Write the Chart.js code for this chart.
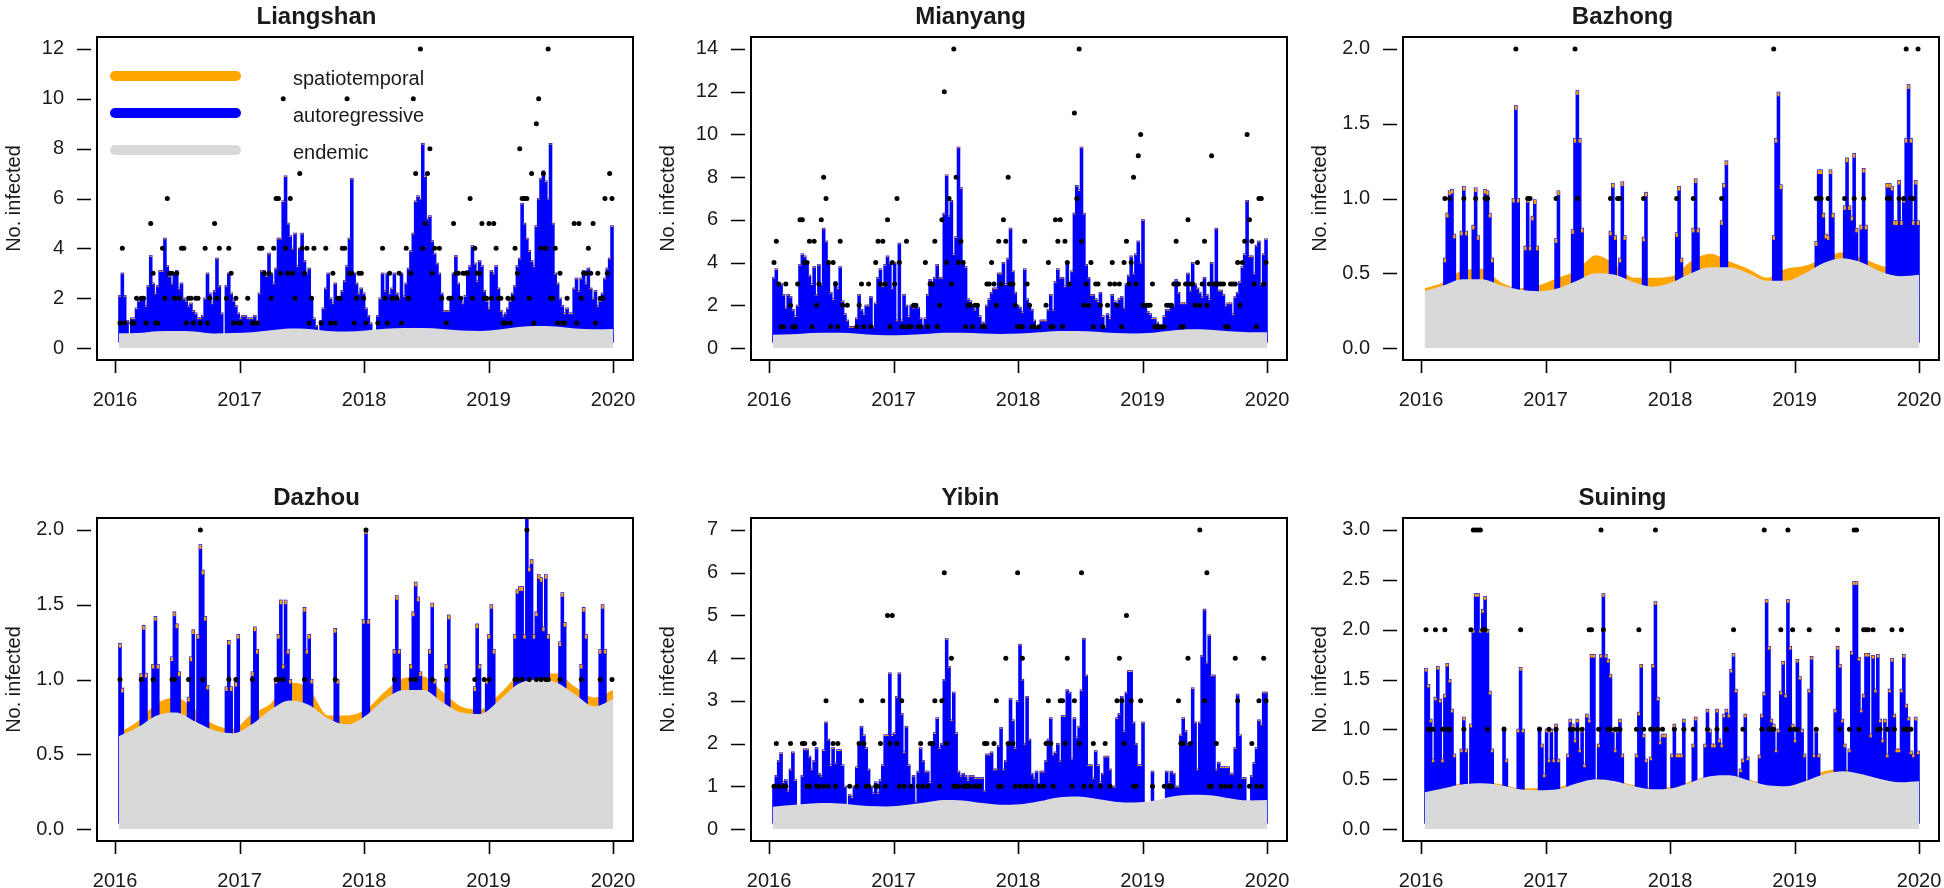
<!DOCTYPE html>
<html>
<head>
<meta charset="utf-8">
<title>Fitted components by city</title>
<script src="https://cdn.jsdelivr.net/npm/chart.js@4.4.1/dist/chart.umd.min.js"></script>
<style>
    html, body { margin: 0; padding: 0; background: #fff; overflow: hidden; }
    #page { position: relative; width: 1944px; height: 888px; overflow: hidden; }
    #page canvas { position: absolute; }
</style>
</head>
<body>
<div id="page"></div>
<script>
// Time axis: 209 weekly steps, the first one starting at 2016.03
const WEEK0 = 2016.03;
const WEEK_STEP = 0.019;
const N_WEEKS = 209;

const yearTicks = [2016, 2017, 2018, 2019, 2020];

// ---- Liangshan ----
const liangshanTicks = [0, 2, 4, 6, 8, 10, 12];
const liangshanEndemic = [0.59, 0.60, 0.67, 0.68, 0.66, 0.58, 0.60, 0.63, 0.71, 0.78, 0.76, 0.68, 0.66, 0.70,
    0.77, 0.80, 0.80, 0.76, 0.70, 0.68, 0.74, 0.84, 0.88, 0.86, 0.78, 0.75, 0.76];
const liangshanFitted = [
    2.1, 3.0, 2.1, 1.1, null, 1.2, 1.2, 1.6, 1.9, 2.0, 2.0, 1.7, 2.5,
    3.7, 2.6, 2.2, 2.5, 3.1, 3.1, 4.4, 3.3, 2.9, 2.6, 3.0, 3.1, 2.4,
    2.6, 2.0, 1.9, 1.7, 1.8, 1.5, 1.4, 1.2, 1.2, 1.3, 2.0, 3.0, 2.2,
    1.8, 2.3, 3.6, 2.5, 1.4, null, 2.5, 3.0, 2.2, 1.9, 1.7, 1.4, 1.2,
    1.3, 1.3, 1.2, 1.2, 1.2, 1.3, 1.0, 2.2, 3.1, 3.1, 2.9, 3.8, 3.0,
    2.6, 3.2, 4.4, 4.4, 5.9, 6.9, 5.0, 4.5, 4.0, 4.6, 3.3, 4.0, 4.6,
    3.5, 3.0, 3.2, 2.0, 1.2, 0.9, null, 1.1, 1.6, 2.4, 3.0, 2.0, 1.8,
    2.6, 2.0, 2.0, 2.3, 2.7, 3.3, 4.4, 6.8, 3.0, 2.6, 2.2, 2.4, 2.2,
    1.6, 1.3, 1.0, null, null, 1.3, 2.0, 3.0, 2.3, 3.0, 2.2, 2.4, 3.0,
    2.2, 2.0, 3.0, 2.1, 2.6, 3.2, 3.9, 4.6, 5.9, 6.1, 6.0, 8.2, 6.9,
    5.2, 5.3, 4.3, 3.8, 3.4, 3.0, 2.2, 1.5, 1.5, 1.5, 2.0, 3.0, 3.7,
    2.6, 2.0, 1.8, 2.1, 3.1, 3.3, 4.1, 3.4, 2.7, 3.5, 3.3, 2.3, 1.9,
    1.6, 3.1, 3.0, 3.3, 2.4, 1.5, 1.3, 1.4, 1.6, 1.9, 2.2, 2.5, 3.3,
    3.6, 5.8, 5.0, 4.4, 3.9, 3.5, 3.3, 4.9, 6.0, 6.8, 7.1, 6.7, 6.0,
    8.2, 5.0, 3.0, 2.6, 2.0, 1.7, 1.4, 1.6, 1.4, 1.4, 2.4, 2.8, 2.3,
    2.8, 3.1, 2.6, 3.2, 2.4, 2.0, 2.3, 1.7, 1.9, 2.2, 2.8, 3.2, 3.6,
    4.9
];
const liangshanObserved = [
    [0, 1], [1, 4], [2, 1], [5, 1], [6, 1], [7, 2], [9, 2], [10, 2], [11, 1], [13, 5], [14, 3], [15, 1], [16, 1],
    [18, 4], [19, 2], [20, 6], [21, 3], [22, 3], [23, 2], [24, 3], [25, 2], [26, 4], [27, 4], [28, 1], [29, 2],
    [30, 2], [31, 1], [32, 2], [33, 2], [34, 1], [36, 4], [37, 1], [38, 2], [40, 5], [41, 2], [42, 4], [45, 2],
    [46, 4], [47, 3], [48, 1], [49, 2], [50, 1], [51, 1], [54, 2], [56, 1], [57, 1], [58, 1], [59, 4], [60, 4],
    [61, 3], [63, 3], [64, 2], [65, 4], [66, 6], [67, 6], [68, 3], [69, 10], [70, 4], [71, 3], [72, 6], [73, 3],
    [74, 2], [76, 7], [77, 4], [78, 3], [79, 4], [80, 1], [81, 2], [82, 4], [85, 1], [87, 4], [89, 1], [90, 3],
    [91, 1], [92, 2], [93, 2], [94, 4], [95, 4], [96, 10], [97, 3], [98, 3], [99, 1], [100, 2], [101, 3],
    [102, 3], [103, 2], [104, 1], [109, 1], [111, 4], [112, 2], [113, 1], [114, 3], [115, 2], [117, 2], [118, 3],
    [119, 1], [121, 4], [122, 2], [123, 3], [124, 10], [125, 7], [127, 12], [128, 4], [129, 5], [130, 7],
    [131, 8], [132, 3], [133, 4], [135, 4], [136, 2], [138, 1], [139, 2], [140, 2], [141, 5], [142, 3], [143, 3],
    [144, 2], [145, 3], [146, 3], [147, 3], [148, 6], [149, 2], [150, 4], [151, 3], [152, 3], [153, 5], [154, 2],
    [155, 2], [156, 5], [157, 2], [158, 5], [159, 4], [160, 2], [161, 2], [162, 1], [163, 1], [164, 2], [165, 1],
    [166, 2], [167, 4], [168, 3], [169, 8], [170, 6], [171, 6], [172, 6], [173, 2], [174, 7], [175, 1], [176, 9],
    [177, 10], [178, 4], [179, 7], [180, 4], [181, 12], [182, 2], [183, 2], [184, 4], [185, 1], [186, 3],
    [187, 1], [188, 1], [189, 2], [192, 5], [193, 1], [194, 5], [195, 2], [196, 3], [197, 3], [198, 4], [199, 3],
    [200, 5], [201, 1], [202, 3], [203, 2], [204, 2], [205, 6], [206, 3], [207, 7], [208, 6]
];

// ---- Mianyang ----
const mianyangTicks = [0, 2, 4, 6, 8, 10, 12, 14];
const mianyangEndemic = [0.62, 0.64, 0.70, 0.72, 0.70, 0.63, 0.60, 0.61, 0.66, 0.72, 0.72, 0.68, 0.66, 0.68,
    0.74, 0.80, 0.80, 0.76, 0.70, 0.68, 0.72, 0.82, 0.88, 0.86, 0.78, 0.74, 0.74];
const mianyangFitted = [
    3.3, 3.7, 3.0, 3.0, 2.5, 1.9, 2.5, 2.4, 1.8, 1.5, 2.0, 3.9, 4.4,
    4.3, 4.0, 3.4, 3.0, 3.8, 2.5, 3.9, 3.0, 5.6, 5.0, 4.0, 2.6, 2.3,
    3.1, 2.8, 3.8, 2.2, 1.6, 1.3, 1.0, 1.0, 1.0, 1.4, 2.5, 1.8, 1.6,
    2.0, 2.0, 2.4, 1.0, 2.1, 3.3, 3.7, 2.9, 3.9, 4.3, 4.0, 2.8, 4.0,
    1.3, 4.9, 1.3, 2.5, 2.0, 1.5, 2.0, 1.9, 2.0, 1.9, 1.4, 1.1, 1.4,
    2.5, 3.2, 3.0, 3.3, 3.9, 3.3, 3.3, 6.3, 8.1, 6.2, 6.9, 4.4, 5.2,
    9.4, 7.5, 4.0, 3.8, 2.3, 2.2, 2.0, 1.8, 2.0, 1.5, 1.2, 1.2, 2.0,
    2.3, 2.6, 2.8, 2.8, 3.5, 3.5, 4.0, 3.0, 4.2, 5.6, 3.6, 2.6, 2.0,
    1.9, 1.7, 3.7, 2.3, 2.0, 1.8, 1.3, 1.0, 1.0, 1.3, 1.3, 1.3, 1.8,
    2.5, 1.8, 3.1, 3.7, 3.3, 3.3, 2.9, 4.0, 3.0, 3.6, 6.3, 7.6, 7.4,
    9.4, 6.3, 3.9, 3.3, 2.5, 2.5, 2.3, 2.2, 2.6, 1.5, 1.0, 1.6, 1.4,
    2.5, 2.2, 2.0, 2.3, 2.4, 1.9, 3.0, 3.4, 4.3, 3.5, 4.4, 5.0, 4.0,
    6.0, 2.0, 1.7, 1.6, 1.4, 1.4, 1.2, 1.0, 1.0, 1.5, 1.8, 1.8, 2.0,
    2.0, 3.2, 2.6, 2.1, 2.1, 2.1, 3.5, 2.7, 4.0, 3.0, 2.8, 2.6, 2.4,
    3.3, 2.5, 2.3, 4.0, 3.0, 5.6, 2.7, 2.7, 2.5, 2.0, 2.1, 2.1, 1.6,
    2.4, 2.6, 3.1, 3.8, 4.4, 6.9, 4.3, 4.3, 3.5, 4.8, 5.0, 3.0, 4.4,
    5.1
];
const mianyangObserved = [
    [0, 4], [1, 5], [2, 3], [3, 1], [4, 1], [5, 3], [7, 2], [8, 1], [9, 1], [10, 3], [11, 6], [12, 6], [13, 4],
    [14, 4], [15, 5], [16, 1], [17, 5], [18, 2], [19, 3], [20, 6], [21, 8], [22, 7], [23, 4], [24, 1], [25, 4],
    [26, 3], [27, 1], [28, 5], [29, 2], [31, 2], [35, 1], [36, 2], [37, 3], [38, 1], [40, 3], [41, 1], [43, 4],
    [44, 5], [45, 3], [46, 5], [47, 3], [48, 6], [49, 1], [50, 4], [51, 3], [52, 7], [53, 4], [54, 1], [55, 1],
    [56, 5], [57, 1], [58, 1], [59, 2], [60, 2], [61, 1], [62, 1], [64, 4], [65, 1], [66, 3], [67, 3], [68, 5],
    [69, 1], [70, 2], [71, 6], [72, 12], [73, 4], [74, 7], [75, 3], [76, 14], [77, 8], [78, 4], [79, 5], [80, 4],
    [81, 1], [82, 2], [83, 2], [84, 1], [85, 2], [86, 2], [88, 1], [89, 1], [90, 3], [91, 3], [92, 4], [93, 3],
    [94, 2], [95, 5], [96, 3], [97, 6], [98, 5], [99, 8], [100, 3], [101, 3], [102, 2], [103, 1], [104, 1],
    [105, 1], [106, 5], [107, 3], [108, 2], [109, 1], [110, 1], [112, 1], [115, 2], [116, 4], [117, 1], [118, 1],
    [119, 6], [120, 5], [121, 6], [122, 1], [123, 5], [124, 4], [125, 3], [127, 11], [128, 7], [129, 14],
    [130, 5], [131, 2], [132, 3], [133, 2], [134, 4], [135, 1], [136, 3], [137, 3], [138, 2], [139, 1], [141, 2],
    [142, 3], [143, 4], [144, 3], [145, 2], [146, 3], [147, 1], [148, 4], [149, 5], [150, 3], [151, 4], [152, 8],
    [153, 3], [154, 9], [155, 10], [156, 2], [157, 2], [158, 2], [159, 2], [160, 3], [161, 1], [162, 1], [163, 1],
    [164, 1], [165, 1], [166, 2], [167, 2], [168, 2], [169, 3], [170, 5], [171, 3], [172, 1], [173, 1], [174, 3],
    [175, 6], [176, 3], [177, 3], [178, 2], [179, 4], [180, 2], [181, 3], [182, 5], [183, 2], [184, 3], [185, 9],
    [186, 3], [187, 3], [188, 3], [189, 3], [190, 3], [191, 1], [192, 1], [193, 3], [194, 3], [195, 3], [196, 4],
    [197, 2], [198, 4], [199, 5], [200, 10], [201, 6], [202, 5], [203, 3], [204, 1], [205, 7], [206, 7],
    [207, 3], [208, 4]
];

// ---- Bazhong ----
const bazhongTicks = [0, 0.5, 1, 1.5, 2];
const bazhongEndemic = [0.38, 0.42, 0.46, 0.46, 0.42, 0.39, 0.38, 0.40, 0.45, 0.50, 0.49, 0.44, 0.41, 0.44,
    0.50, 0.54, 0.54, 0.50, 0.45, 0.45, 0.50, 0.57, 0.60, 0.57, 0.51, 0.48, 0.49];
const bazhongSpatial = [0.40, 0.44, 0.52, 0.53, 0.44, 0.40, 0.42, 0.47, 0.52, 0.62, 0.56, 0.47, 0.47, 0.48,
    0.58, 0.63, 0.58, 0.53, 0.47, 0.53, 0.55, 0.60, 0.64, 0.60, 0.55, 0.52, 0.51];
// sparse: [week, fitted mean] only where the autoregressive part shows
const bazhongFitted = [
    [8, 0.6], [9, 0.9], [10, 1.05], [11, 1.06], [12, 0.76], [15, 0.78], [16, 1.08], [17, 0.78],
    [20, 0.82], [21, 1.07], [22, 0.75], [25, 1.06], [26, 1.05], [27, 0.9], [28, 0.6],
    [37, 1.0], [38, 1.62], [39, 1.0], [42, 0.68], [43, 1.0], [44, 0.68], [45, 0.88], [46, 0.99], [47, 0.68],
    [55, 0.73], [56, 1.05], [62, 0.79], [63, 1.4], [64, 1.72], [65, 1.4], [66, 0.8],
    [78, 0.78], [79, 1.1], [80, 0.75], [82, 0.6], [83, 1.11], [84, 0.75], [92, 0.74], [93, 1.04],
    [106, 0.77], [107, 1.08], [108, 0.6], [113, 0.8], [114, 1.13], [115, 0.8],
    [125, 0.85], [126, 1.1], [127, 1.25], [147, 0.75], [148, 1.4], [149, 1.71], [150, 1.09],
    [165, 0.71], [166, 1.19], [167, 1.19], [168, 0.9], [169, 0.76], [170, 0.75], [171, 1.19], [172, 0.9],
    [177, 0.95], [178, 1.27], [179, 0.95], [180, 0.88], [181, 1.3], [182, 0.8], [184, 0.82], [185, 1.2], [186, 0.82],
    [195, 1.1], [196, 1.1], [197, 1.08], [198, 0.85], [199, 0.85], [200, 1.12], [201, 0.85], [202, 1.0],
    [203, 1.4], [204, 1.76], [205, 1.4], [206, 0.85], [207, 1.12], [208, 0.85]
];
const bazhongObserved = [
    [8, 1], [10, 1], [16, 1], [21, 1], [25, 1], [26, 1], [38, 2], [43, 1], [44, 1], [55, 1], [63, 2], [64, 1],
    [78, 1], [81, 1], [82, 1], [92, 1], [106, 1], [113, 1], [125, 1], [147, 2], [165, 1], [166, 1], [167, 1],
    [170, 1], [177, 1], [181, 1], [185, 1], [195, 1], [196, 1], [200, 1], [202, 1], [203, 2], [205, 1],
    [206, 1], [208, 2]
];

// ---- Dazhou ----
const dazhouTicks = [0, 0.5, 1, 1.5, 2];
const dazhouEndemic = [0.62, 0.68, 0.76, 0.78, 0.72, 0.66, 0.64, 0.70, 0.80, 0.86, 0.83, 0.74, 0.70, 0.76,
    0.87, 0.93, 0.93, 0.85, 0.78, 0.77, 0.86, 0.97, 1.00, 0.98, 0.90, 0.82, 0.87];
const dazhouSpatial = [0.64, 0.72, 0.84, 0.88, 0.80, 0.70, 0.67, 0.77, 0.84, 0.98, 0.94, 0.76, 0.76, 0.80,
    0.92, 1.01, 1.02, 0.92, 0.82, 0.80, 0.90, 1.02, 1.04, 1.04, 0.95, 0.88, 0.93];
const dazhouFitted = [
    [0, 1.24], [1, 0.94], [9, 1.04], [10, 1.36], [11, 1.04], [14, 1.1], [15, 1.42], [16, 1.1],
    [22, 1.15], [23, 1.45], [24, 1.37], [25, 1.05], [29, 0.88], [30, 1.15], [31, 1.33],
    [33, 1.3], [34, 1.9], [35, 1.73], [36, 1.42], [37, 0.96], [45, 0.95], [46, 1.26], [47, 0.95],
    [49, 0.98], [50, 1.3], [56, 1.05], [57, 1.35], [58, 1.2],
    [66, 1.0], [67, 1.3], [68, 1.53], [69, 1.1], [70, 1.53], [71, 1.2], [72, 1.0],
    [78, 1.48], [79, 1.2], [80, 1.3], [81, 1.0], [91, 1.34], [92, 1.0], [103, 1.4], [104, 2.0], [105, 1.4],
    [116, 1.2], [117, 1.56], [118, 1.2], [123, 1.1], [124, 1.45], [125, 1.65], [126, 1.55], [127, 1.05],
    [131, 1.2], [132, 1.51], [133, 1.0], [138, 1.1], [139, 1.43], [150, 0.95], [151, 1.37], [152, 1.1],
    [155, 1.0], [156, 1.3], [157, 1.5], [158, 1.2],
    [167, 1.3], [168, 1.6], [169, 1.62], [170, 1.62], [171, 1.3], [172, 2.3], [173, 1.75], [174, 1.8],
    [175, 1.3], [176, 1.45], [177, 1.7], [178, 1.68], [179, 1.35], [180, 1.7], [181, 1.3],
    [186, 1.25], [187, 1.58], [188, 1.38], [195, 1.1], [196, 1.48], [197, 1.3], [203, 1.2], [204, 1.5], [205, 1.2]
];
const dazhouObserved = [
    [0, 1], [9, 1], [14, 1], [22, 1], [23, 1], [29, 1], [34, 2], [35, 1], [46, 1], [49, 1], [56, 1], [66, 1],
    [67, 1], [69, 1], [78, 1], [91, 1], [104, 2], [116, 1], [123, 1], [125, 1], [132, 1], [138, 1], [150, 1],
    [154, 1], [156, 1], [167, 1], [168, 1], [170, 1], [172, 2], [173, 1], [176, 1], [178, 1], [180, 1],
    [181, 1], [186, 1], [195, 1], [203, 1], [208, 1]
];

// ---- Yibin ----
const yibinTicks = [0, 1, 2, 3, 4, 5, 6, 7];
const yibinEndemic = [0.52, 0.56, 0.60, 0.61, 0.58, 0.54, 0.53, 0.56, 0.62, 0.68, 0.67, 0.61, 0.57, 0.58,
    0.65, 0.74, 0.76, 0.71, 0.64, 0.62, 0.66, 0.76, 0.80, 0.79, 0.72, 0.67, 0.68];
const yibinFitted = [
    1.0, 1.25, 1.6, 1.78, 1.1, 1.15, 0.9, 1.4, 1.8, 1.15, null, null, 1.25,
    1.87, 1.87, 1.7, 1.4, 1.6, 1.9, 1.3, 1.25, 1.85, 2.5, 2.1, 1.5, 1.9,
    1.55, 1.85, 1.85, 1.5, 1.0, null, 0.8, 0.75, 1.0, 1.45, 2.0, 2.4, 2.2,
    1.9, 1.4, 1.0, 0.85, 1.1, 0.85, 1.15, 1.5, 2.2, 2.2, 3.65, 2.2, 2.25,
    3.1, 3.65, 2.7, 1.8, 2.4, 1.5, 1.0, 1.25, 0.65, 1.35, 1.9, 1.6, 1.35,
    1.35, 1.1, 2.0, 2.25, 2.6, 1.9, 2.0, 3.5, 4.45, 3.8, 2.55, 3.2, 2.25,
    1.35, 1.25, 1.3, 1.25, 1.15, 1.25, 1.25, 1.2, 1.2, 1.2, 1.2, 0.9, 1.75,
    1.75, 1.8, 1.4, 1.4, 1.95, 2.37, 1.4, 1.6, 2.0, 3.05, 2.55, 1.9, 3.0,
    4.32, 3.5, 2.0, 3.1, 2.1, 1.3, 1.2, 1.35, 1.05, 1.35, 1.35, 1.6, 2.1,
    2.6, 1.75, 1.8, 2.0, 1.6, 2.65, 2.65, 3.26, 3.2, 1.65, 2.6, 2.15, 2.4,
    3.25, 4.46, 3.6, 1.5, 1.5, 1.2, 1.83, 1.5, 1.1, 1.3, 1.7, 1.7, 1.4,
    1.0, 1.0, 2.6, 2.7, 3.1, 2.3, 3.2, 3.7, 3.7, 2.5, 2.0, 1.5, 1.5,
    2.5, null, null, null, 1.35, null, null, null, null, null, 1.35, 1.1, 1.35,
    1.3, 1.0, 1.0, 2.2, 2.6, 2.3, 2.0, 2.0, 3.3, 2.5, 1.4, 2.5, 4.06,
    5.14, 3.9, 4.54, 3.6, 3.6, 1.4, 1.56, 1.45, 1.45, 1.45, 1.45, 1.3, 1.3,
    1.9, 3.15, 2.2, 1.2, 1.2, null, null, 1.25, 1.55, 1.9, 2.55, 2.45, 3.2,
    3.2
];
const yibinObserved = [
    [0, 1], [1, 2], [2, 1], [4, 1], [5, 1], [7, 2], [12, 2], [13, 2], [14, 1], [15, 1], [17, 2], [18, 1],
    [19, 1], [21, 1], [22, 3], [23, 1], [25, 2], [26, 1], [27, 2], [32, 1], [35, 1], [36, 2], [37, 3], [38, 2],
    [39, 1], [40, 1], [43, 1], [44, 1], [45, 2], [46, 3], [47, 1], [48, 5], [49, 2], [50, 5], [52, 2], [53, 1],
    [54, 3], [55, 1], [58, 1], [61, 1], [62, 2], [63, 1], [65, 1], [66, 2], [67, 2], [68, 3], [70, 1], [71, 3],
    [72, 6], [73, 2], [75, 4], [76, 1], [77, 1], [78, 1], [80, 1], [81, 1], [82, 1], [83, 1], [85, 1], [86, 1],
    [87, 1], [89, 2], [90, 2], [93, 2], [94, 3], [95, 1], [96, 1], [98, 4], [99, 2], [101, 2], [102, 1],
    [103, 6], [104, 1], [105, 4], [106, 1], [107, 1], [109, 1], [112, 1], [114, 1], [115, 2], [116, 3],
    [117, 2], [118, 1], [121, 3], [122, 3], [123, 2], [124, 4], [126, 1], [127, 3], [129, 2], [130, 6],
    [131, 1], [134, 1], [135, 2], [138, 1], [140, 2], [142, 1], [145, 3], [146, 4], [147, 3], [148, 2],
    [149, 5], [151, 3], [152, 1], [153, 1], [155, 3], [160, 1], [165, 1], [167, 1], [168, 1], [171, 3],
    [172, 2], [173, 2], [175, 4], [176, 2], [180, 7], [182, 3], [183, 6], [184, 1], [185, 1], [187, 2],
    [189, 1], [191, 1], [193, 1], [195, 4], [196, 3], [197, 1], [201, 1], [202, 2], [204, 1], [205, 3],
    [206, 1], [207, 4], [208, 3]
];

// ---- Suining ----
const suiningTicks = [0, 0.5, 1, 1.5, 2, 2.5, 3];
const suiningEndemic = [0.37, 0.41, 0.45, 0.46, 0.44, 0.40, 0.39, 0.40, 0.46, 0.50, 0.48, 0.43, 0.40, 0.41,
    0.47, 0.53, 0.54, 0.49, 0.44, 0.43, 0.48, 0.55, 0.58, 0.55, 0.50, 0.47, 0.48];
const suiningSpatial = [0.38, 0.42, 0.46, 0.47, 0.45, 0.41, 0.41, 0.42, 0.47, 0.51, 0.49, 0.44, 0.42, 0.42,
    0.48, 0.54, 0.56, 0.50, 0.45, 0.44, 0.49, 0.58, 0.60, 0.57, 0.51, 0.48, 0.49];
const suiningFitted = [
    1.61, 1.45, 1.1, 0.7, 1.32, 1.63, 1.3, 0.7, 1.35, 1.66, 1.5, 1.2, 0.75,
    null, null, 0.8, 1.12, 0.8, null, 1.05, 2.0, 2.36, 2.36, 2.0, 2.2, 2.33,
    2.0, 1.38, 0.8, null, null, null, null, 1.02, 0.7, null, null, null, null,
    1.0, 1.62, 1.0, null, null, null, null, null, null, 1.02, 0.85, 0.55, 1.0,
    0.7, 1.0, 0.7, 1.05, 0.7, null, null, null, 0.75, 1.1, 1.05, 0.9, 1.1,
    0.8, 1.0, 0.65, 1.15, 1.1, 1.75, 1.75, null, 0.85, 1.75, 2.36, 1.75, 1.7,
    1.55, 1.0, 0.8, 1.0, 1.1, 0.75, null, null, null, null, null, 0.75, 1.17,
    1.65, 0.95, 0.7, null, 0.72, 1.65, 2.28, 1.32, 0.88, 0.95, 0.95, null, null,
    0.75, 1.05, 0.75, 0.75, 0.75, 1.1, null, null, null, 0.85, 1.12, null, null,
    null, 0.85, 1.2, 1.0, 0.85, 0.85, 1.2, 0.9, 0.85, 1.15, 1.2, 1.15, 1.6,
    1.76, 1.4, null, 0.6, 0.7, 1.15, 0.72, null, null, null, null, 0.74, 1.15,
    1.37, 2.3, 1.83, 1.1, 1.05, 0.8, 1.0, 1.38, 1.68, 1.35, 2.3, 1.83, 1.05,
    0.9, 1.7, 1.53, 1.0, 0.75, null, 1.4, 1.73, 0.75, 1.0, 0.75, null, null,
    null, null, null, null, 1.2, 1.83, 1.65, 1.1, 0.85, null, 0.8, 1.78, 2.48,
    2.48, 1.72, 1.2, 1.35, 1.76, 1.76, 0.95, 1.74, 1.4, 1.75, 1.1, 0.9, 1.1,
    0.75, 1.4, 1.71, 1.15, 0.8, 0.8, 1.4, 1.75, 1.25, 1.12, 0.78, 0.75, 1.12,
    0.78
];
const suiningObserved = [
    [0, 2], [1, 1], [2, 1], [3, 1], [4, 2], [7, 1], [8, 2], [9, 1], [10, 1], [16, 1], [19, 2], [20, 3], [21, 3],
    [22, 3], [23, 3], [24, 2], [25, 2], [26, 1], [33, 1], [40, 2], [48, 1], [52, 1], [55, 1], [61, 1], [62, 1],
    [64, 1], [66, 1], [69, 2], [70, 2], [73, 1], [74, 3], [75, 2], [77, 1], [78, 1], [80, 1], [81, 1], [82, 1],
    [89, 1], [90, 2], [92, 1], [95, 1], [96, 1], [97, 3], [98, 1], [100, 1], [105, 1], [109, 1], [113, 1],
    [119, 1], [123, 1], [127, 1], [130, 2], [134, 1], [142, 1], [143, 3], [145, 1], [146, 1], [147, 1],
    [150, 2], [153, 3], [154, 1], [155, 2], [156, 1], [157, 1], [162, 2], [165, 1], [174, 2], [175, 1],
    [179, 1], [181, 3], [182, 3], [183, 1], [185, 2], [186, 2], [187, 2], [189, 2], [191, 1], [192, 1],
    [195, 1], [197, 2], [198, 1], [201, 2], [202, 1], [203, 1], [204, 1], [205, 1]
];

const legendLabels = ['spatiotemporal', 'autoregressive', 'endemic'];

// Colours as in the hhh4 plot
const GREY = '#d9d9d9';
const BLUE = '#0000ff';
const ORANGE = '#ffa500';
const INK = '#1a1a1a';

// Layout of the 2x3 grid (plot box corners, px)
const BOX_W = 536;
const BOX_H = 328;
const Y_AXIS_W = 97;
const TITLE_H = 32;
const X_AXIS_H = 50;
const X_MIN = 2015.855;
const X_MAX = 2020.16;

const panels = [
    { title: 'Liangshan', left: 97, top: 32, ticks: liangshanTicks, decimals: 0, endemic: liangshanEndemic,
      spatial: null, fitted: liangshanFitted, observed: liangshanObserved, cap: 1, legend: true },
    { title: 'Mianyang', left: 751, top: 32, ticks: mianyangTicks, decimals: 0, endemic: mianyangEndemic,
      spatial: null, fitted: mianyangFitted, observed: mianyangObserved, cap: 1 },
    { title: 'Bazhong', left: 1403, top: 32, ticks: bazhongTicks, decimals: 1, endemic: bazhongEndemic,
      spatial: bazhongSpatial, fitted: bazhongFitted, observed: bazhongObserved, cap: 4 },
    { title: 'Dazhou', left: 97, top: 513, ticks: dazhouTicks, decimals: 1, endemic: dazhouEndemic,
      spatial: dazhouSpatial, fitted: dazhouFitted, observed: dazhouObserved, cap: 4 },
    { title: 'Yibin', left: 751, top: 513, ticks: yibinTicks, decimals: 0, endemic: yibinEndemic,
      spatial: null, fitted: yibinFitted, observed: yibinObserved, cap: 1 },
    { title: 'Suining', left: 1403, top: 513, ticks: suiningTicks, decimals: 1, endemic: suiningEndemic,
      spatial: suiningSpatial, fitted: suiningFitted, observed: suiningObserved, cap: 3 }
];

Chart.defaults.font.family = "'Liberation Sans', Arial, sans-serif";
Chart.defaults.font.size = 20;
Chart.defaults.color = INK;

// centre of week w
function weekX(w) {
    return WEEK0 + (w + 0.5) * WEEK_STEP;
}

// dense weekly list, or sparse [week, value] pairs
function fittedPoints(values) {
    if (Array.isArray(values[0])) return values.map(([w, v]) => ({ x: weekX(w), y: v }));
    return values.map((v, w) => ({ x: weekX(w), y: v }));
}

// smooth components are read on an even grid over the whole fitted window
function smoothPoints(values) {
    const span = N_WEEKS * WEEK_STEP;
    return values.map((v, i) => ({ x: WEEK0 + i * span / (values.length - 1), y: v }));
}

// spatiotemporal share on top of each weekly bar, placed from the bar elements
const barCaps = {
    id: 'barCaps',
    afterDatasetDraw(chart, args, opts) {
        if (args.meta.type !== 'bar' || !opts.size) return;
        const { ctx, chartArea: a } = chart;
        const points = chart.data.datasets[args.index].data;
        ctx.save();
        ctx.beginPath();
        ctx.rect(a.left, a.top, a.right - a.left, a.bottom - a.top);
        ctx.clip();
        ctx.fillStyle = ORANGE;
        args.meta.data.forEach((bar, i) => {
            if (points[i].y == null) return;
            const { x, y, width } = bar.getProps(['x', 'y', 'width'], true);
            ctx.fillRect(x - width / 2, y, width, opts.size);
        });
        ctx.restore();
    }
};

// R-style frame: box, detached y ticks, x ticks, in-plot legend
const rFrame = {
    id: 'rFrame',
    afterDraw(chart, args, opts) {
        const { ctx, chartArea: a, scales } = chart;
        ctx.save();
        ctx.strokeStyle = '#000';
        ctx.lineWidth = 2;
        ctx.strokeRect(a.left, a.top, a.right - a.left, a.bottom - a.top);

        ctx.lineWidth = 1.6;
        ctx.beginPath();
        scales.y.ticks.forEach(t => {
            const y = Math.round(scales.y.getPixelForValue(t.value)) + 0.5;
            ctx.moveTo(a.left - 20, y);
            ctx.lineTo(a.left - 6, y);
        });
        scales.x.ticks.forEach(t => {
            const x = Math.round(scales.x.getPixelForValue(t.value)) + 0.5;
            ctx.moveTo(x, a.bottom + 1);
            ctx.lineTo(x, a.bottom + 13);
        });
        ctx.stroke();

        if (opts.legend) {
            const colors = [ORANGE, BLUE, GREY];
            ctx.lineCap = 'round';
            ctx.lineWidth = 10;
            ctx.font = "20px 'Liberation Sans', Arial, sans-serif";
            ctx.textBaseline = 'middle';
            legendLabels.forEach((label, i) => {
                const y = a.top + 39 + i * 37;
                ctx.strokeStyle = colors[i];
                ctx.beginPath();
                ctx.moveTo(a.left + 18, y);
                ctx.lineTo(a.left + 139, y);
                ctx.stroke();
                ctx.fillStyle = INK;
                ctx.fillText(label, a.left + 196, y + 3);
            });
        }
        ctx.restore();
    }
};

const page = document.getElementById('page');

panels.forEach(p => {
    const canvas = document.createElement('canvas');
    canvas.width = Y_AXIS_W + BOX_W + Y_AXIS_W;
    canvas.height = TITLE_H + BOX_H + X_AXIS_H;
    canvas.style.left = (p.left - Y_AXIS_W) + 'px';
    canvas.style.top = (p.top - TITLE_H) + 'px';
    page.appendChild(canvas);

    const yTop = p.ticks[p.ticks.length - 1];

    const datasets = [
        {
            type: 'line', label: 'observed',
            data: p.observed.map(([w, n]) => ({ x: weekX(w), y: n })),
            showLine: false, fill: false,
            pointRadius: 2.5, pointBackgroundColor: '#000', pointBorderWidth: 0,
            order: -1
        },
        {
            type: 'line', label: 'endemic',
            data: smoothPoints(p.endemic),
            fill: 'origin', backgroundColor: GREY,
            borderWidth: 0, borderColor: 'rgba(0,0,0,0)', pointRadius: 0,
            cubicInterpolationMode: 'monotone',
            order: 0
        },
        {
            // bars start inside the endemic band so nothing leaks under the grey
            type: 'bar', label: 'autoregressive',
            data: fittedPoints(p.fitted),
            base: 0.02 * yTop,
            backgroundColor: BLUE, borderWidth: 0,
            barPercentage: 1, categoryPercentage: 1, inflateAmount: 0.6,
            order: 1
        }
    ];
    if (p.spatial) {
        datasets.push({
            type: 'line', label: 'spatiotemporal',
            data: smoothPoints(p.spatial),
            fill: 'origin', backgroundColor: ORANGE,
            borderWidth: 0, borderColor: 'rgba(0,0,0,0)', pointRadius: 0,
            cubicInterpolationMode: 'monotone',
            order: 2
        });
    }

    new Chart(canvas, {
        type: 'bar',
        data: { datasets },
        options: {
            responsive: false,
            animation: false,
            events: [],
            layout: { padding: { left: 0, right: Y_AXIS_W, top: 0, bottom: 0 } },
            plugins: {
                legend: { display: false },
                tooltip: { enabled: false },
                title: {
                    display: true, text: p.title, color: INK,
                    font: { size: 24, weight: 'bold', lineHeight: 1 },
                    padding: { top: 0, bottom: 8 }
                },
                barCaps: { size: p.cap },
                rFrame: { legend: !!p.legend }
            },
            scales: {
                x: {
                    type: 'linear', min: X_MIN, max: X_MAX, offset: false,
                    grid: { display: false }, border: { display: false },
                    afterBuildTicks: s => { s.ticks = yearTicks.map(v => ({ value: v })); },
                    ticks: { padding: 20, autoSkip: false, maxRotation: 0, callback: v => String(v) },
                    afterFit: s => { s.height = X_AXIS_H; }
                },
                y: {
                    type: 'linear', min: -0.04 * yTop, max: 1.04 * yTop,
                    grid: { display: false }, border: { display: false },
                    afterBuildTicks: s => { s.ticks = p.ticks.map(v => ({ value: v })); },
                    ticks: { padding: 25, autoSkip: false, callback: v => v.toFixed(p.decimals) },
                    title: { display: true, text: 'No. infected', font: { size: 20 }, padding: { top: 2, bottom: 0 } },
                    afterFit: s => { s.width = Y_AXIS_W; }
                }
            }
        },
        plugins: [barCaps, rFrame]
    });
});
</script>
</body>
</html>
